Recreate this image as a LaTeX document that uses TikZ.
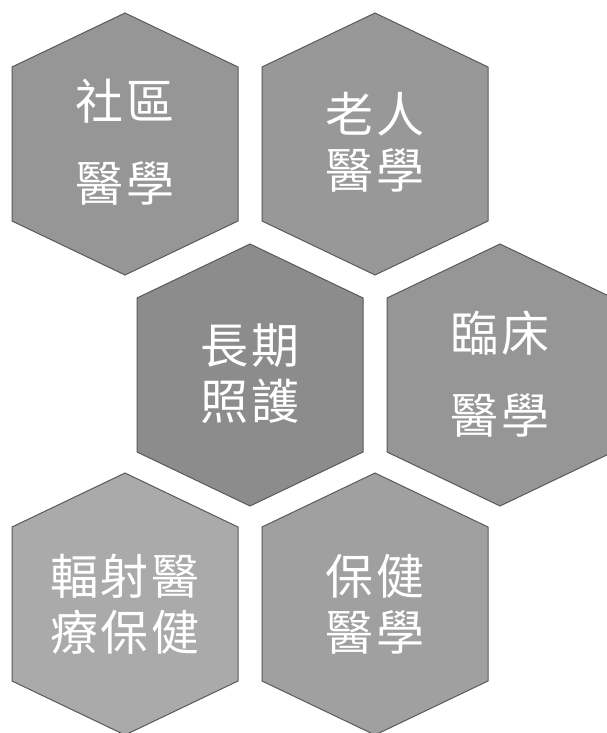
\documentclass[tikz,border=0pt]{standalone}
\usepackage{fontspec}
\newfontfamily\cjk[LetterSpace=5]{Noto Sans CJK TC}
\usetikzlibrary{calc, positioning}

\definecolor{hexA}{RGB}{150,150,150}
\definecolor{hexB}{RGB}{152,152,152}
\definecolor{hexC}{RGB}{140,140,140}
\definecolor{hexD}{RGB}{150,150,150}
\definecolor{hexE}{RGB}{170,170,170}
\definecolor{hexF}{RGB}{160,160,160}
\definecolor{hexedge}{RGB}{90,90,90}

\tikzset{
  hexagon/.style={fill=#1, draw=hexedge, line width=0.5pt},
  hexcell/.style={insert path={++(0,-131) -- ++(113,54) -- ++(0,154) -- ++(-113,54) -- ++(-113,-54) -- ++(0,-154) -- cycle}},
  hextext/.style={text=white, font=\cjk\fontsize{24}{28}\selectfont, align=center, inner sep=0pt},
}

\begin{document}
\begin{tikzpicture}[x=0.5pt, y=-0.5pt]
        \useasboundingbox[fill=white] (0,0) rectangle (606,733);

        % cell centres
        \coordinate (cSocial) at (125,144);
        \coordinate (cGeriatric) at (375,144);
        \coordinate (cLongterm) at (250,375);
        \coordinate (cClinical) at (500,375);
        \coordinate (cRadiation) at (125,604);
        \coordinate (cPreventive) at (375,604);

        \draw[hexagon=hexA] (cSocial) [hexcell];
        \draw[hexagon=hexB] (cGeriatric) [hexcell];
        \draw[hexagon=hexC] (cLongterm) [hexcell];
        \draw[hexagon=hexD] (cClinical) [hexcell];
        \draw[hexagon=hexE] (cRadiation) [hexcell];
        \draw[hexagon=hexF] (cPreventive) [hexcell];

        \node[hextext] (social) at ($(cSocial)+(0,-2)$) {社區\\[13pt]醫學};
        \node[hextext] (geriatric) at ($(cGeriatric)+(0,-2)$) {老人\\醫學};
        \node[hextext] (longterm) at ($(cLongterm)+(0,-1)$) {長期\\照護};
        \node[hextext] (clinical) at ($(cClinical)+(0,-1)$) {臨床\\[13pt]醫學};
        \node[hextext] (radiation) at (cRadiation) {輻射醫\\療保健};
        \node[hextext] (preventive) at (cPreventive) {保健\\醫學};
    \end{tikzpicture}
\end{document}
